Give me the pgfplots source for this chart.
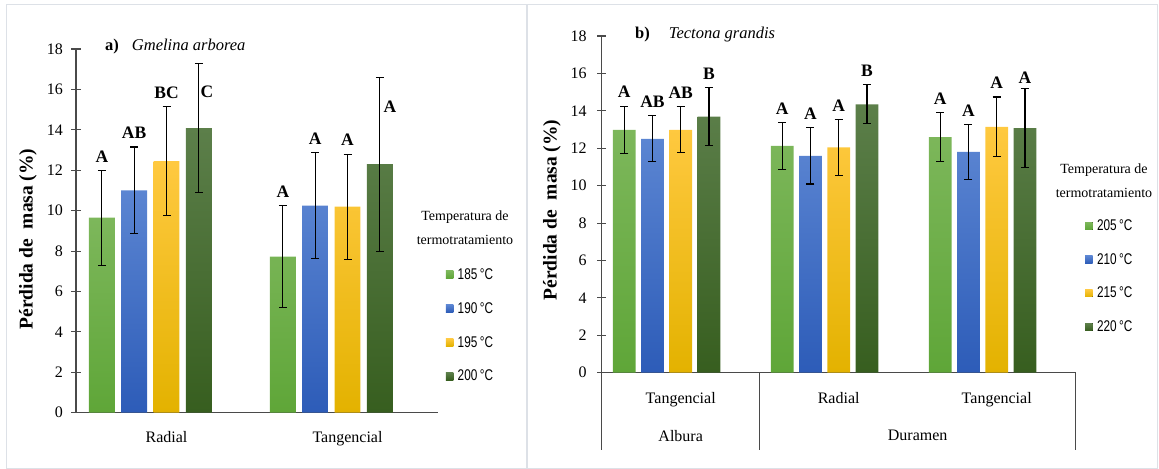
\documentclass[border=0pt]{standalone}
\usepackage{fontspec}
\setmainfont{Liberation Serif}
\newfontfamily\narrowsans{Liberation Sans}[FakeStretch=0.76]
\usepackage{pgfplots}
\pgfplotsset{compat=1.18}
\usepackage{pgfplotstable}

\definecolor{gTop}{HTML}{7DB75B}
\definecolor{gBot}{HTML}{5FA638}
\definecolor{bTop}{HTML}{5B85D2}
\definecolor{bBot}{HTML}{2D5CB8}
\definecolor{yTop}{HTML}{FFC940}
\definecolor{yBot}{HTML}{E3B200}
\definecolor{dTop}{HTML}{5C7F4A}
\definecolor{dBot}{HTML}{375E1F}
\definecolor{framec}{HTML}{DDE1E7}
\definecolor{axisgray}{HTML}{4A4A4A}

% Panel a: Gmelina arborea (categories Radial=0, Tangencial=1)
\pgfplotstableread{
x      y     e
-0.357 9.65  2.35
0.643  7.72  2.52
}\aG
\pgfplotstableread{
x      y     e
-0.179 11.00 2.15
0.821  10.25 2.63
}\aB
\pgfplotstableread{
x      y     e
0.000  12.45 2.70
1.000  10.20 2.60
}\aY
\pgfplotstableread{
x      y     e
0.179  14.08 3.20
1.179  12.30 4.30
}\aD

% Panel b: Tectona grandis (Albura-Tangencial=0, Duramen-Radial=1, Duramen-Tangencial=2)
\pgfplotstableread{
x      y     e
-0.357 12.98 1.27
0.643  12.12 1.27
1.643  12.59 1.30
}\bG
\pgfplotstableread{
x      y     e
-0.179 12.50 1.23
0.821  11.59 1.50
1.821  11.80 1.47
}\bB
\pgfplotstableread{
x      y     e
0.000  12.98 1.23
1.000  12.05 1.50
2.000  13.14 1.60
}\bY
\pgfplotstableread{
x      y     e
0.179  13.69 1.55
1.179  14.35 1.05
2.179  13.07 2.10
}\bD

\pgfplotsset{
  panel/.style={
    scale only axis, ymin=0, ymax=18, ytick={0,2,...,18},
    axis x line*=bottom, axis y line*=left,
    axis line style={-, axisgray, line width=1.1bp},
    ytick style={axisgray, line width=1.1bp}, tick align=center, major tick length=9bp,
    xtick style={draw=none},
    ybar, bar width=0.1436, bar shift=0pt,
    clip=false,
    ticklabel style={font=\fontsize{16bp}{18bp}\selectfont},
    /pgf/number format/assume math mode=true,
    error bars/y dir=both, error bars/y explicit,
    error bars/error bar style={draw=black, line width=1.1bp},
    error bars/error mark options={draw=black, rotate=90, mark size=4bp, line width=1.1bp},
    legend image code/.code={\fill[##1] (0bp,-3.7bp) rectangle (7.4bp,3.7bp);},
    legend cell align=left,
  },
}
\tikzset{lett/.style={font=\bfseries\fontsize{17.5bp}{19bp}\selectfont, anchor=center, yshift=14bp, inner sep=0pt}}

\begin{document}
\begin{tikzpicture}
\path[use as bounding box] (0,0) rectangle (1159bp,469bp);
\draw[framec, line width=1.5bp] (6.5bp,0.75bp) rectangle (527bp,464.5bp);
\draw[framec, line width=1.5bp] (527bp,0.75bp) rectangle (1157.5bp,464.5bp);

% ---------------- Panel a ----------------
\begin{axis}[panel,
  at={(76bp,56.3bp)}, anchor=south west,
  width=362bp, height=363.7bp,
  xmin=-0.5, xmax=1.5,
  xtick={0,1}, xticklabels={Radial,Tangencial},
  xticklabel style={yshift=-6bp},
  yticklabel style={xshift=-5bp},
  legend style={at={(1.0213,0.3973)}, anchor=north west, draw=none, fill=none,
    inner sep=0pt, row sep=21.6bp, column sep=4.4bp,
    nodes={inner sep=0pt}, font=\narrowsans\fontsize{15.5bp}{17bp}\selectfont},
]
\addplot[draw=none, top color=gTop, bottom color=gBot] table[x=x, y=y, y error=e] {\aG};
\addplot[draw=none, top color=bTop, bottom color=bBot] table[x=x, y=y, y error=e] {\aB};
\addplot[draw=none, top color=yTop, bottom color=yBot] table[x=x, y=y, y error=e] {\aY};
\addplot[draw=none, top color=dTop, bottom color=dBot] table[x=x, y=y, y error=e] {\aD};
\legend{185\,°C,190\,°C,195\,°C,200\,°C}
\node[lett] at (axis cs:-0.357,12.00) {A};
\node[lett] at (axis cs:-0.179,13.15) {AB};
\node[lett] at (axis cs:0,15.15) {BC};
\node[lett, yshift=-14bp] at (axis cs:0.224,15.86) {C};
\node[lett] at (axis cs:0.643,10.24) {A};
\node[lett] at (axis cs:0.821,12.88) {A};
\node[lett] at (axis cs:1.0,12.80) {A};
\node[lett, yshift=-14bp] at (axis cs:1.235,15.12) {A};
\end{axis}
\node[anchor=center, align=center, font=\fontsize{14bp}{23.3bp}\selectfont] at (465bp,241.3bp) {Temperatura de\\termotratamiento};
\node[anchor=west, font=\fontsize{16.5bp}{18bp}\selectfont, inner sep=0pt] at (105bp,422.3bp) {\textbf{a)}\hspace{13bp}\textit{Gmelina arborea}};
\node[rotate=90, font=\bfseries\fontsize{19.5bp}{21bp}\selectfont] at (28bp,230bp) {Pérdida de \ masa (\%)};

% ---------------- Panel b ----------------
\begin{axis}[panel,
  at={(601.7bp,96.3bp)}, anchor=south west,
  width=474bp, height=336.7bp,
  xmin=-0.5, xmax=2.5,
  xtick={0,1,2}, xticklabels={Tangencial,Radial,Tangencial},
  xticklabel style={yshift=-7bp},
  yticklabel style={xshift=-7bp},
  legend style={at={(1.0196,0.455)}, anchor=north west, draw=none, fill=none,
    inner sep=0pt, row sep=21.4bp, column sep=4.4bp,
    nodes={inner sep=0pt}, font=\narrowsans\fontsize{15.5bp}{17bp}\selectfont},
]
\addplot[draw=none, top color=gTop, bottom color=gBot] table[x=x, y=y, y error=e] {\bG};
\addplot[draw=none, top color=bTop, bottom color=bBot] table[x=x, y=y, y error=e] {\bB};
\addplot[draw=none, top color=yTop, bottom color=yBot] table[x=x, y=y, y error=e] {\bY};
\addplot[draw=none, top color=dTop, bottom color=dBot] table[x=x, y=y, y error=e] {\bD};
\legend{205\,°C,210\,°C,215\,°C,220\,°C}
\node[lett] at (axis cs:-0.357,14.25) {A};
\node[lett] at (axis cs:-0.179,13.73) {AB};
\node[lett] at (axis cs:0,14.21) {AB};
\node[lett] at (axis cs:0.179,15.24) {B};
\node[lett] at (axis cs:0.643,13.39) {A};
\node[lett] at (axis cs:0.821,13.09) {A};
\node[lett] at (axis cs:1.0,13.55) {A};
\node[lett] at (axis cs:1.179,15.40) {B};
\node[lett] at (axis cs:1.643,13.89) {A};
\node[lett] at (axis cs:1.821,13.27) {A};
\node[lett] at (axis cs:2.0,14.74) {A};
\node[lett, yshift=-3bp] at (axis cs:2.179,15.17) {A};
\draw[axisgray, line width=1.1bp] (axis cs:-0.5,0) -- ++(0bp,-77.3bp);
\draw[axisgray, line width=1.1bp] (axis cs:0.5,0) -- ++(0bp,-77.3bp);
\draw[axisgray, line width=1.1bp] (axis cs:2.5,0) -- ++(0bp,-77.3bp);
\node[font=\fontsize{16bp}{18bp}\selectfont, yshift=-63bp] at (axis cs:0,0) {Albura};
\node[font=\fontsize{16bp}{18bp}\selectfont, yshift=-63bp] at (axis cs:1.5,0) {Duramen};
\end{axis}
\node[anchor=center, align=center, font=\fontsize{14bp}{24.4bp}\selectfont] at (1104bp,288.5bp) {Temperatura de\\termotratamiento};
\node[anchor=west, font=\fontsize{16.5bp}{18bp}\selectfont, inner sep=0pt] at (635bp,434bp) {\textbf{b)}\hspace{19bp}\textit{Tectona grandis}};
\node[rotate=90, font=\bfseries\fontsize{19.5bp}{21bp}\selectfont] at (552bp,259bp) {Pérdida de \ masa (\%)};
\end{tikzpicture}
\end{document}
